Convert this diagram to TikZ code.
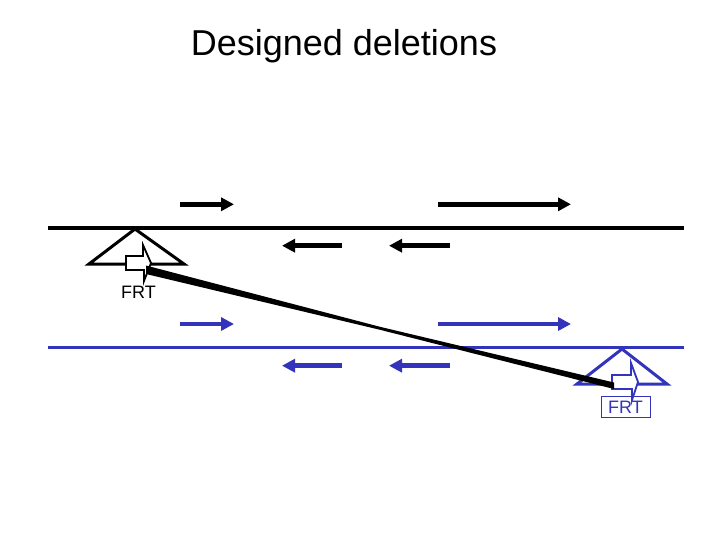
\documentclass[tikz,border=0pt]{standalone}
\usepackage{fontspec}
\setmainfont{Liberation Sans}
\usetikzlibrary{arrows.meta}
\definecolor{frtblue}{RGB}{51,51,187}
\tikzset{
  gene/.style={line width=4.5pt,-{Triangle[length=13pt,width=13pt]}},
  chrom/.style={line width=4pt},
  tri/.style={line width=3pt,line join=miter},
  blockarrow/.style={line width=1.8pt,line join=miter,fill=white},
  lbl/.style={font=\fontsize{18}{21}\selectfont,inner sep=1.5pt}
}
\begin{document}
\begin{tikzpicture}[x=1pt,y=-1pt]
\useasboundingbox (0,0) rectangle (720,540);
% title
\node[font=\fontsize{36}{42}\selectfont] (title) at (344,46) {Designed deletions};
% chromosomes
\coordinate (cA1) at (48,227.7); \coordinate (cA2) at (684,227.7);
\draw[chrom] (cA1) -- (cA2);
\coordinate (cB1) at (48,347.7); \coordinate (cB2) at (684,347.7);
\draw[chrom,draw=frtblue,line width=3.5pt] (cB1) -- (cB2);
% black genes
\coordinate (g1s) at (180,204.3); \coordinate (g1e) at (234,204.3);
\coordinate (g2s) at (438,204.3); \coordinate (g2e) at (571,204.3);
\coordinate (g3s) at (342,245.7); \coordinate (g3e) at (282,245.7);
\coordinate (g4s) at (450,245.7); \coordinate (g4e) at (389,245.7);
\draw[gene] (g1s) -- (g1e);
\draw[gene] (g2s) -- (g2e);
\draw[gene] (g3s) -- (g3e);
\draw[gene] (g4s) -- (g4e);
% blue genes
\coordinate (b1s) at (180,324); \coordinate (b1e) at (234,324);
\coordinate (b2s) at (438,324); \coordinate (b2e) at (571,324);
\coordinate (b3s) at (342,365.7); \coordinate (b3e) at (282,365.7);
\coordinate (b4s) at (450,365.7); \coordinate (b4e) at (389,365.7);
\begin{scope}[frtblue]
\draw[gene] (b1s) -- (b1e);
\draw[gene] (b2s) -- (b2e);
\draw[gene] (b3s) -- (b3e);
\draw[gene] (b4s) -- (b4e);
\end{scope}
% black triangle and FRT
\draw[tri] (135,229) -- (184,264) -- (89,264) -- cycle;
\draw[blockarrow] (126,256) -- (143,256) -- (143,245) -- (151,263) -- (144,281) -- (144,270) -- (126,270) -- cycle;
\node[lbl] (frtA) at (138.5,292) {FRT};
% blue triangle and FRT
\draw[tri,draw=frtblue] (622,349) -- (667,384) -- (577,384) -- cycle;
\draw[blockarrow,draw=frtblue] (612,375) -- (631,375) -- (631,363) -- (638,382) -- (632,400) -- (632,389) -- (612,389) -- cycle;
\node[lbl,draw=frtblue,line width=0.8pt,text=frtblue,minimum width=49pt,minimum height=21pt] (frtB) at (625.5,407) {FRT};
% deletion connector (tapered)
\coordinate (dA) at (146,270);
\coordinate (dB) at (614,386);
\fill (146,265.5) -- (380,326.8) -- (614,382.5) -- (614,389) -- (380,329.8) -- (146,274) -- cycle;
\end{tikzpicture}
\end{document}
